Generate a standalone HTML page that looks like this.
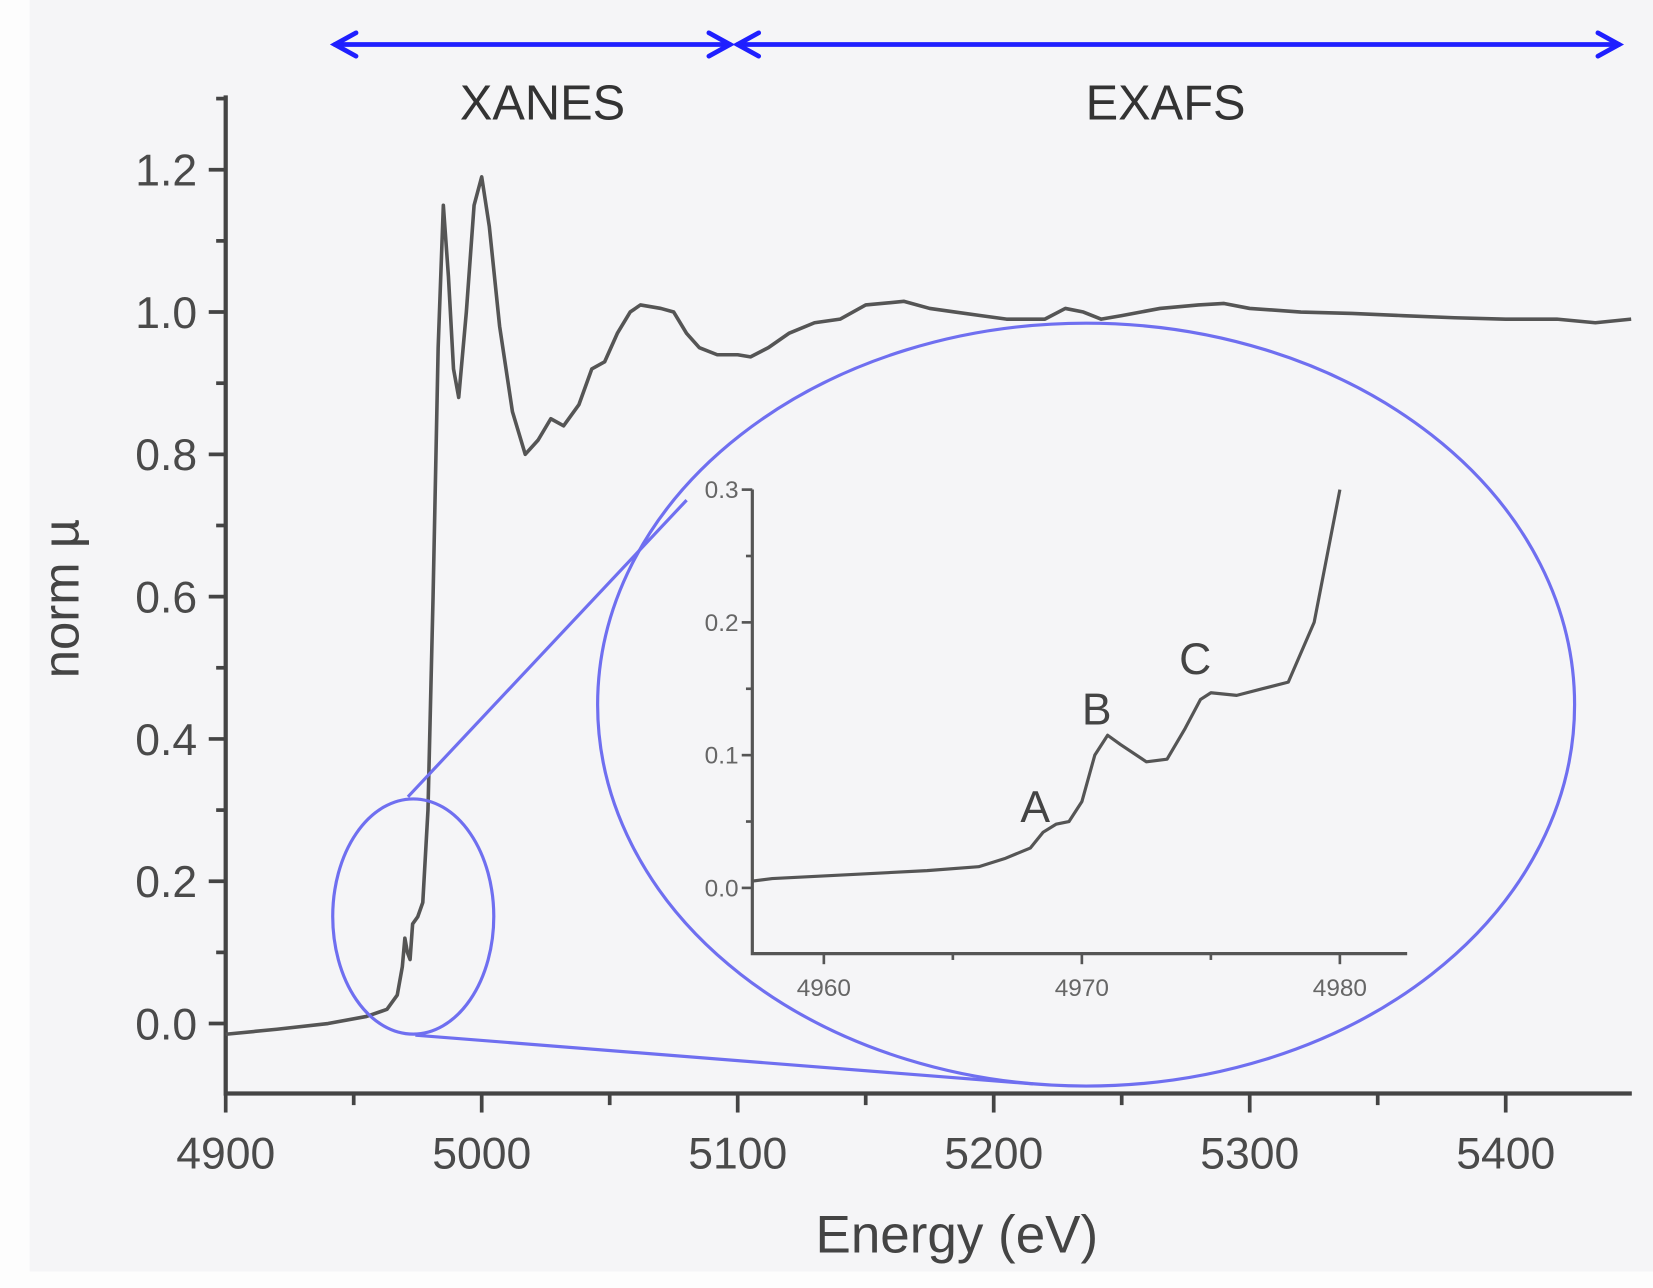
<!DOCTYPE html>
<html><head><meta charset="utf-8"><style>
html,body{margin:0;padding:0;background:#fff;}
svg{display:block;font-family:"Liberation Sans",sans-serif;}
</style></head><body>
<svg id="chart" width="1653" height="1288" viewBox="0 0 1560 1215.6" preserveAspectRatio="none" xmlns="http://www.w3.org/2000/svg">
<rect x="0" y="0" width="1560" height="1216" fill="#fdfdfd"/>
<rect x="28" y="0" width="1532" height="1200" fill="#f5f5f7"/>
<g id="arrows"></g>
<text x="512" y="113" font-size="46" fill="#333" text-anchor="middle">XANES</text>
<text x="1100" y="113" font-size="46" fill="#333" text-anchor="middle">EXAFS</text>
<g id="main"></g>
<g id="inset"></g>
<text transform="translate(74,565) rotate(-90)" font-size="48" fill="#444" text-anchor="middle">norm µ</text>
<text x="903" y="1182" font-size="50" fill="#444" text-anchor="middle">Energy (eV)</text>
</svg>
<script>
const mainE=[4900,4920,4940,4955,4963,4967,4969,4970,4971,4972,4973,4975,4977,4979,4981,4983,4985,4987,4989,4991,4994,4997,5000,5003,5007,5012,5017,5022,5027,5032,5038,5043,5048,5053,5058,5062,5070,5075,5080,5085,5092,5100,5105,5112,5120,5130,5140,5150,5165,5175,5185,5195,5205,5220,5228,5235,5242,5250,5265,5280,5290,5300,5320,5340,5360,5380,5400,5420,5435,5449];
const mainMu=[-0.015,-0.008,0.0,0.01,0.02,0.04,0.08,0.12,0.10,0.09,0.14,0.15,0.17,0.3,0.6,0.95,1.15,1.05,0.92,0.88,1.0,1.15,1.19,1.12,0.98,0.86,0.80,0.82,0.85,0.84,0.87,0.92,0.93,0.97,1.0,1.01,1.005,1.0,0.97,0.95,0.94,0.94,0.937,0.95,0.97,0.985,0.99,1.01,1.015,1.005,1.0,0.995,0.99,0.99,1.005,1.0,0.99,0.995,1.005,1.01,1.012,1.005,1.0,0.998,0.995,0.992,0.99,0.99,0.985,0.99];
const mainXTicks=[4900,5000,5100,5200,5300,5400];
const mainYTicks=[0.0,0.2,0.4,0.6,0.8,1.0,1.2];
const insetE=[4957.2,4958,4960,4962,4964,4966,4967,4968,4968.5,4969,4969.5,4970,4970.5,4971,4971.5,4972.5,4973.3,4974,4974.6,4975,4976,4977,4978,4979,4980];
const insetMu=[0.005,0.007,0.009,0.011,0.013,0.016,0.022,0.03,0.042,0.048,0.05,0.065,0.1,0.115,0.108,0.095,0.097,0.12,0.142,0.147,0.145,0.15,0.155,0.2,0.3];
const insetXTicks=[4960,4970,4980];
const insetYTicks=[0.0,0.1,0.2,0.3];

const NS="http://www.w3.org/2000/svg";
function mk(parent,tag,attrs){const e=document.createElementNS(NS,tag);for(const k in attrs)e.setAttribute(k,attrs[k]);parent.appendChild(e);return e;}

const mx=e=>213+(e-4900)*2.416;
const my=v=>966-v*671.5;
const main=document.getElementById('main');
const ax=mk(main,'path',{d:'M213,90 L213,1032 L1540,1032',fill:'none',stroke:'#444','stroke-width':4});


for(let e=4900;e<=5449;e+=50){const major=(e%100===0);
 const t=mk(main,'line',{x1:mx(e),x2:mx(e),y1:1032,y2:major?1050:1043,stroke:'#444','stroke-width':3.5});
 
 }
mainXTicks.forEach(e=>{const t=mk(main,'text',{x:mx(e),y:1103,'font-size':42,fill:'#4a4a4a','text-anchor':'middle'});t.textContent=e;
 
 });
for(let k=0;k<=13;k++){const v=k*0.1;const major=k%2===0;
 const t=mk(main,'line',{x1:major?197:204,x2:213,y1:my(v),y2:my(v),stroke:'#444','stroke-width':3.5});
 
 }
mainYTicks.forEach(v=>{const t=mk(main,'text',{x:186,y:my(v)+15,'font-size':42,fill:'#4a4a4a','text-anchor':'end'});t.textContent=v.toFixed(1);
 
 });
const ml=mk(main,'polyline',{points:mainE.map((e,i)=>mx(e).toFixed(1)+','+my(mainMu[i]).toFixed(1)).join(' '),fill:'none',stroke:'#555','stroke-width':3.4,'stroke-linejoin':'round'});



const zc='#6f6ff0';
const z1=mk(main,'ellipse',{cx:390,cy:865,rx:76,ry:111,fill:'none',stroke:zc,'stroke-width':3});


const z2=mk(main,'ellipse',{cx:1025,cy:665,rx:461,ry:360,fill:'none',stroke:zc,'stroke-width':3});


const l1=mk(main,'line',{x1:385,y1:752,x2:648,y2:472,stroke:zc,'stroke-width':3});


const l2=mk(main,'line',{x1:392,y1:977,x2:975,y2:1023,stroke:zc,'stroke-width':3});



const ar=document.getElementById('arrows');
function arrow(x1,x2){
 const g=mk(ar,'g',{stroke:'#1f1fff','stroke-width':4.5,fill:'none','stroke-linecap':'round'});
 
 
 mk(g,'line',{x1:x1,y1:42,x2:x2,y2:42});
 mk(g,'polyline',{points:`${x1+20},31 ${x1},42 ${x1+20},53`});
 mk(g,'polyline',{points:`${x2-20},31 ${x2},42 ${x2-20},53`});
}
arrow(316,689);arrow(696,1528);

const ix=e=>1021+(e-4970)*24.35;
const iy=v=>838-v*1253;
const ins=document.getElementById('inset');
const iax=mk(ins,'path',{d:'M710,462 L710,900 L1328,900',fill:'none',stroke:'#555','stroke-width':3});


for(let e=4960;e<=4982;e+=5){const t=mk(ins,'line',{x1:ix(e),x2:ix(e),y1:900,y2:e%10===0?910:906,stroke:'#555','stroke-width':2.5});
 
 }
insetXTicks.forEach(e=>{const t=mk(ins,'text',{x:ix(e),y:940,'font-size':23,fill:'#666','text-anchor':'middle'});t.textContent=e;
 
 });
for(let k=0;k<=6;k++){const v=k*0.05;const t=mk(ins,'line',{x1:k%2===0?700:704,x2:710,y1:iy(v),y2:iy(v),stroke:'#555','stroke-width':2.5});
 
 }
insetYTicks.forEach(v=>{const t=mk(ins,'text',{x:697,y:iy(v)+8,'font-size':23,fill:'#666','text-anchor':'end'});t.textContent=v.toFixed(1);
 
 });
const il=mk(ins,'polyline',{points:insetE.map((e,i)=>ix(e).toFixed(1)+','+iy(insetMu[i]).toFixed(1)).join(' '),fill:'none',stroke:'#555','stroke-width':3,'stroke-linejoin':'round'});


[['A',977,776],['B',1035,684],['C',1128,636]].forEach(p=>{const t=mk(ins,'text',{x:p[1],y:p[2],'font-size':42,fill:'#444','text-anchor':'middle'});t.textContent=p[0];
 
 });
</script>
</body></html>
